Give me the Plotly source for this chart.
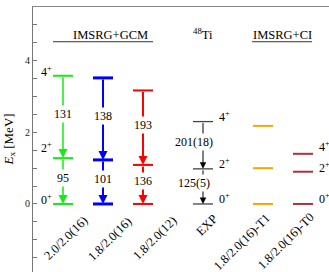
import plotly.graph_objects as go

# ---- data ----
columns = ["2.0/2.0(16)", "1.8/2.0(16)", "1.8/2.0(12)", "EXP", "1.8/2.0(16)-T1", "1.8/2.0(16)-T0"]
col_x = [1, 2, 3, 4.5, 6, 7]
spins = ["0<sup>+</sup>", "2<sup>+</sup>", "4<sup>+</sup>"]
E_green = [0.0, 1.28, 3.58]
E_blue = [0.0, 1.23, 3.52]
E_red = [0.0, 1.09, 3.17]
E_exp = [0.0, 0.98, 2.30]
E_t1 = [0.0, 1.00, 2.18]
E_t0 = [0.0, 0.90, 1.40]
be2_green = ["95", "131"]
be2_blue = ["101", "138"]
be2_red = ["136", "193"]
be2_exp = ["125(5)", "201(18)"]
y_ticks = [-1.5, -1.0, -0.5, 0, 0.5, 1, 1.5, 2, 2.5, 3, 3.5, 4, 4.5, 5, 5.5]
y_tick_labels = ["", "", "", "0", "", "", "", "2", "", "", "", "4", "", "", ""]

SERIF = "Liberation Serif"
levels = [E_green, E_blue, E_red, E_exp, E_t1, E_t0]
colors = ["#11ee11", "#0000ff", "#ff0000", "#444444", "#ffa500", "#b3303a"]
lwidths = [2, 3, 2, 1.3, 2, 2]
half = 0.25

fig = go.Figure()
for cx, E, c, w in zip(col_x, levels, colors, lwidths):
    xs, ys = [], []
    for e in E:
        xs += [cx - half, cx + half, None]
        ys += [e, e, None]
    fig.add_trace(go.Scatter(x=xs, y=ys, mode="lines", line=dict(color=c, width=w),
                             hoverinfo="skip", showlegend=False))

annotations = []
# transitions with arrows
trans = [(0, E_green, be2_green, 1.5, 1.2, 12, 0),
         (1, E_blue, be2_blue, 2.0, 0.9, 12, 0),
         (2, E_red, be2_red, 2.0, 0.9, 12, 0),
         (3, E_exp, be2_exp, 1.0, 1.3, 12, -9)]
for ci, E, vals, aw, asz, fs, xsh in trans:
    cx = col_x[ci]
    for k in range(len(E) - 1):
        lo, hi = E[k], E[k + 1]
        annotations.append(dict(x=cx, y=lo, ax=cx, ay=hi, xref="x", yref="y", axref="x", ayref="y",
                                text="", showarrow=True, arrowhead=2, arrowwidth=aw, arrowsize=asz,
                                arrowcolor=colors[ci] if ci != 3 else "#000000", standoff=0))
        annotations.append(dict(x=cx, y=(lo + hi) / 2, xref="x", yref="y", text=vals[k], showarrow=False,
                                font=dict(family=SERIF, size=fs, color="black"), bgcolor="white",
                                xshift=xsh, yshift=3, borderpad=1))

# spin labels
left_shift = [4, 11, 4]
for k, s in enumerate(spins):
    annotations.append(dict(x=col_x[0] - half, y=E_green[k], xref="x", yref="y", text=s, showarrow=False,
                            xanchor="right", yanchor="middle", xshift=1, yshift=left_shift[k],
                            font=dict(family=SERIF, size=12, color="black")))
exp_shift = [5, 5, 5]
for k, s in enumerate(spins):
    annotations.append(dict(x=col_x[3] + half, y=E_exp[k], xref="x", yref="y", text=s, showarrow=False,
                            xanchor="left", yanchor="middle", xshift=4, yshift=exp_shift[k],
                            font=dict(family=SERIF, size=12, color="black")))
t0_shift = [5, 4, 7]
for k, s in enumerate(spins):
    annotations.append(dict(x=col_x[5] + half, y=E_t0[k], xref="x", yref="y", text=s, showarrow=False,
                            xanchor="left", yanchor="middle", xshift=4, yshift=t0_shift[k],
                            font=dict(family=SERIF, size=12, color="black")))

# rotated column labels
lab_shift = [(3, -34), (7, -35), (12, -34), (4, -21), (-21, -38), (-17, -37)]
for name, cx, (dx, dy) in zip(columns, col_x, lab_shift):
    annotations.append(dict(x=cx, y=0, xref="x", yref="y", text=name, showarrow=False, textangle=-45,
                            xanchor="center", yanchor="middle", xshift=dx, yshift=dy,
                            font=dict(family=SERIF, size=12.5, color="black")))

# group headers
annotations.append(dict(x=2.175, y=4.73, xref="x", yref="y", text="IMSRG+GCM", showarrow=False,
                        xanchor="center", font=dict(family=SERIF, size=12.5, color="black")))
annotations.append(dict(x=4.5, y=4.75, xref="x", yref="y", text="<sup>48</sup>Ti", showarrow=False,
                        xanchor="center", font=dict(family=SERIF, size=12.5, color="black")))
annotations.append(dict(x=6.475, y=4.73, xref="x", yref="y", text="IMSRG+CI", showarrow=False,
                        xanchor="center", font=dict(family=SERIF, size=12.5, color="black")))
# y title
annotations.append(dict(x=-0.081, y=0.5, xref="paper", yref="paper", text="<i>E</i><sub>x</sub> [MeV]",
                        xanchor="center", yanchor="middle",
                        showarrow=False, textangle=-90, font=dict(family=SERIF, size=13, color="black")))

shapes = [
    dict(type="line", xref="x", yref="y", x0=0.75, x1=3.25, y0=4.53, y1=4.53, line=dict(color="#333", width=1)),
    dict(type="line", xref="x", yref="y", x0=5.725, x1=7.225, y0=4.53, y1=4.53, line=dict(color="#333", width=1)),
]

fig.update_layout(
    width=329, height=272,
    margin=dict(l=33, r=0, t=7, b=0),
    paper_bgcolor="white", plot_bgcolor="white",
    annotations=annotations, shapes=shapes,
    xaxis=dict(range=[0.25, 7.65], showgrid=False, zeroline=False, showticklabels=False, ticks="",
               showline=True, side="top", linecolor="#888", linewidth=1.2),
    yaxis=dict(range=[-1.9, 5.5], showgrid=False, zeroline=False, showline=True, linecolor="#777",
               linewidth=1.2, ticks="inside", ticklen=4, tickcolor="#777", tickvals=y_ticks,
               ticktext=y_tick_labels, tickfont=dict(family=SERIF, size=10, color="#222")),
)
fig.write_html("out.html", config={"displayModeBar": False},
               post_script="document.body.style.margin='0';document.body.style.overflow='hidden';")
